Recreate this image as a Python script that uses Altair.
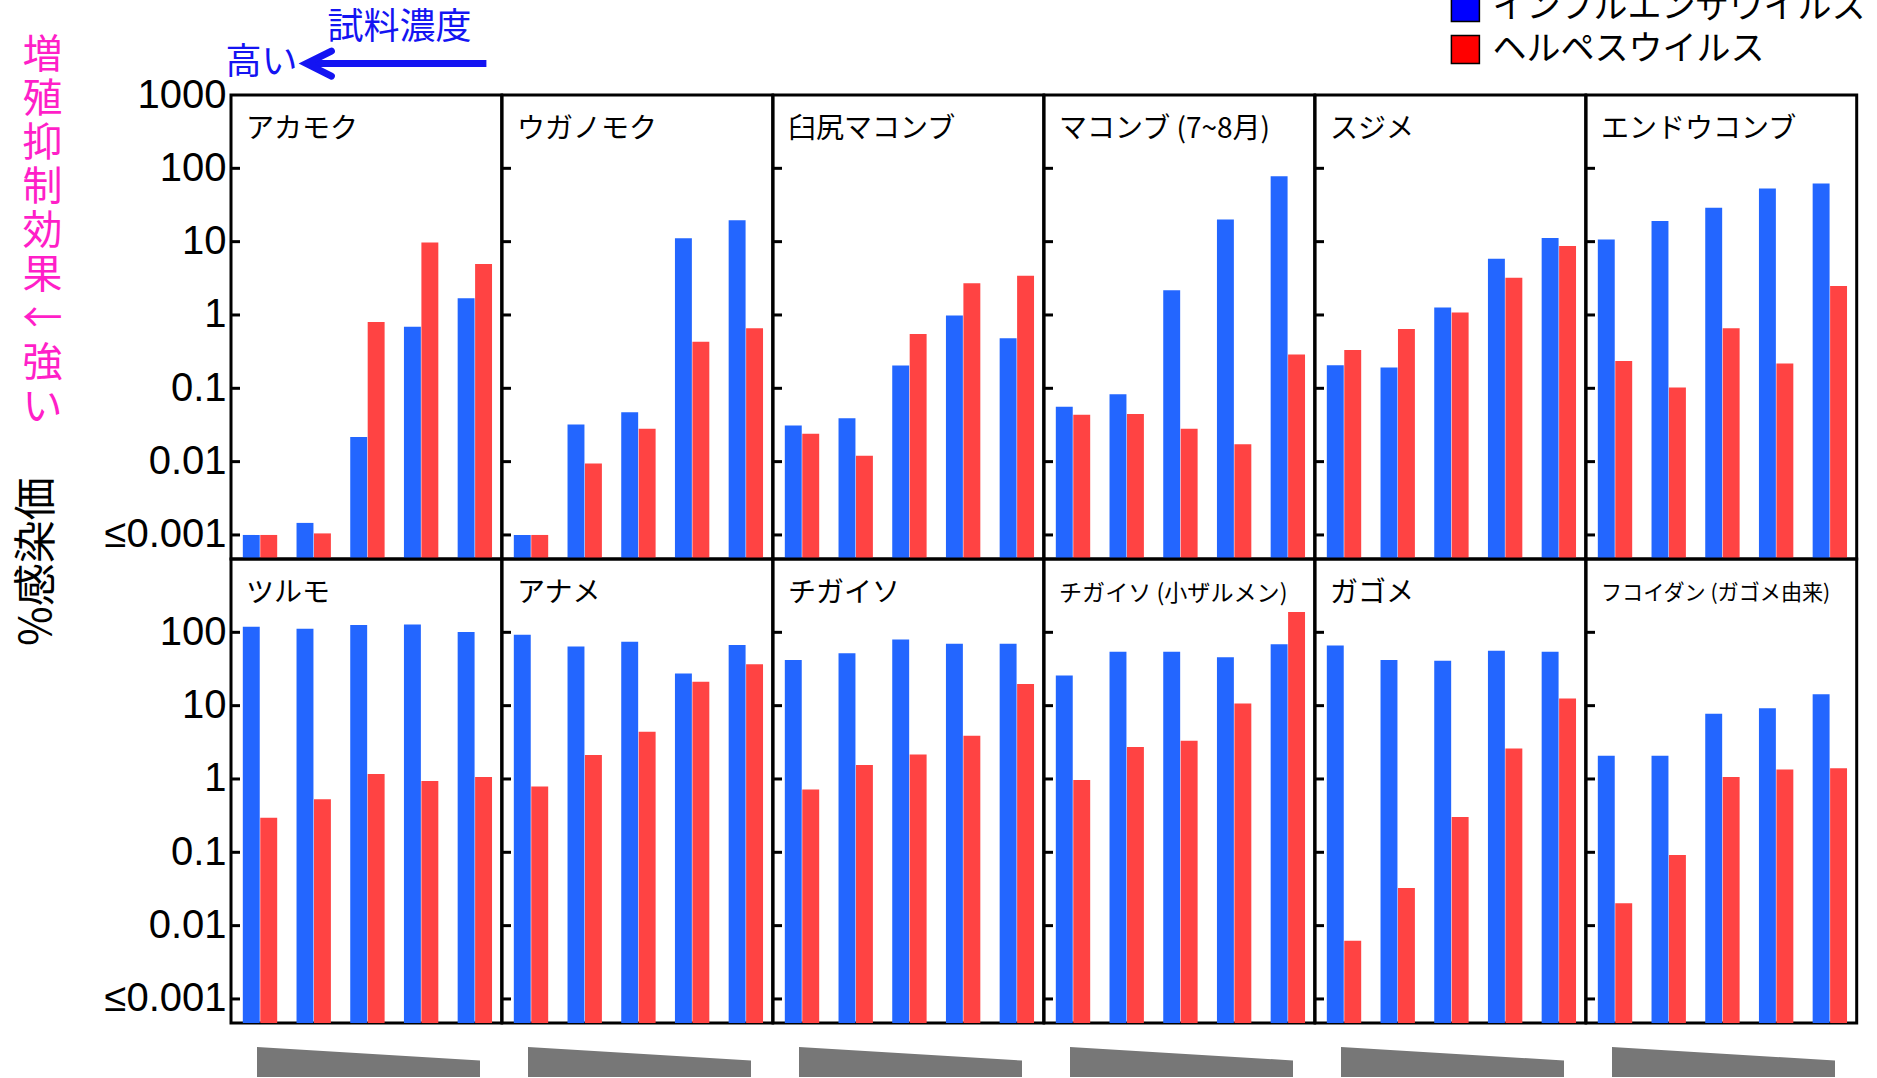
import altair as alt
import pandas as pd

# ---------------- data ----------------
series = ["インフルエンザウイルス", "ヘルペスウイルス"]
bar_colors = ["#2366FF", "#FF4343"]
legend_colors = ["#0000FF", "#FF0000"]
groups = [1, 2, 3, 4, 5]

top_panels = ["アカモク", "ウガノモク", "臼尻マコンブ", "マコンブ (7~8月)", "スジメ", "エンドウコンブ"]
bottom_panels = ["ツルモ", "アナメ", "チガイソ", "チガイソ (小ザルメン)", "ガゴメ", "フコイダン (ガゴメ由来)"]

flu_top = [
    [0.001, 0.00146, 0.0216, 0.69, 1.69],
    [0.001, 0.032, 0.047, 11.1, 19.6],
    [0.031, 0.039, 0.204, 0.98, 0.48],
    [0.056, 0.083, 2.17, 20.0, 78.0],
    [0.206, 0.192, 1.26, 5.85, 11.2],
    [10.7, 19.2, 28.9, 53.0, 62.0],
]
herpes_top = [
    [0.001, 0.00105, 0.80, 9.7, 4.94],
    [0.001, 0.0094, 0.028, 0.43, 0.66],
    [0.024, 0.012, 0.55, 2.7, 3.43],
    [0.0435, 0.0445, 0.028, 0.0172, 0.29],
    [0.334, 0.645, 1.08, 3.22, 8.7],
    [0.236, 0.1025, 0.66, 0.218, 2.48],
]
flu_bottom = [
    [119, 112, 126, 128, 101],
    [93, 64, 74.5, 27.4, 67],
    [42, 52, 80, 70, 70],
    [25.7, 54.5, 54.5, 45.6, 69],
    [66, 42, 41, 56, 54.5],
    [2.08, 2.08, 7.73, 9.24, 14.3],
]
herpes_bottom = [
    [0.295, 0.53, 1.17, 0.94, 1.06],
    [0.79, 2.12, 4.4, 21.1, 36.6],
    [0.72, 1.55, 2.16, 3.9, 19.8],
    [0.97, 2.72, 3.32, 10.7, 189],
    [0.0062, 0.0326, 0.304, 2.61, 12.5],
    [0.0202, 0.0916, 1.06, 1.35, 1.4],
]

axis_values_top = [1000, 100, 10, 1, 0.1, 0.01, 0.001]
axis_labels_top = ["1000", "100", "10", "1", "0.1", "0.01", "≤0.001"]
axis_values_bottom = axis_values_top[1:]
axis_labels_bottom = axis_labels_top[1:]
inner_ticks = [100, 10, 1, 0.1, 0.01, 0.001]
y_domain = [0.00047, 1000]

wedge_x = [0, 1]
wedge_top = [1.0, 0.55]

side_label_chars = ["増", "殖", "抑", "制", "効", "果", "←", "強", "い"]
y_title = "%感染価"
conc_title = "試料濃度"
conc_high = "高い"

# ---------------- layout constants ----------------
W = 270.7
H = 464
OX, OY = 228.6, 93.4  # page position of first panel origin
BLUE_TXT = "#1414F2"
MAGENTA = "#FF1FC8"
JP = "Noto Sans CJK JP"


def label_expr(values, labels):
    expr = "''"
    for v, l in reversed(list(zip(values, labels))):
        expr = f"datum.value == {v} ? '{l}' : ({expr})"
    return expr


def title_size(name):
    em = sum(0.55 if ord(c) < 128 else 1.0 for c in name)
    return min(28, 246 / em)


def panel(name, flu, herpes, first_col, top_row):
    df = pd.DataFrame({
        "group": groups * 2,
        "virus": [series[0]] * 5 + [series[1]] * 5,
        "value": list(flu) + list(herpes),
    })
    if first_col:
        vals = axis_values_top if top_row else axis_values_bottom
        labs = axis_labels_top if top_row else axis_labels_bottom
        axis = alt.Axis(values=vals, labelExpr=label_expr(vals, labs), ticks=False, tickSize=0,
                        domain=False, grid=False, labelFontSize=40, labelFont="Liberation Sans",
                        labelColor="black", labelPadding=5, title=None)
    else:
        axis = None
    yscale = alt.Scale(type="log", domain=y_domain)
    bars = alt.Chart(df).mark_bar().encode(
        x=alt.X("group:O", axis=None,
                scale=alt.Scale(paddingInner=0.36, paddingOuter=0.2, align=0.55)),
        xOffset=alt.XOffset("virus:N", scale=alt.Scale(domain=series, paddingInner=0.03)),
        y=alt.Y("value:Q", scale=yscale, axis=axis, stack=False),
        color=alt.Color("virus:N", scale=alt.Scale(domain=series, range=bar_colors), legend=None),
    )
    ticks = alt.Chart(pd.DataFrame({"value": inner_ticks})).mark_rule(
        color="black", strokeWidth=3).encode(
        y=alt.Y("value:Q", scale=yscale, axis=axis),
        x=alt.value(0), x2=alt.value(9),
    )
    ttl = alt.Chart(pd.DataFrame({"name": [name]})).mark_text(
        align="left", baseline="middle", font=JP, fontSize=title_size(name), color="black"
    ).encode(x=alt.value(15), y=alt.value(35), text="name:N")
    layers = [bars, ticks, ttl]

    if first_col and top_row:
        one = pd.DataFrame({"k": [0]})
        # invisible anchor fixing page origin
        anchor = alt.Chart(one).mark_rule(opacity=0, strokeWidth=0).encode(
            x=alt.value(-OX), x2=alt.value(-OX), y=alt.value(-OY - 20), y2=alt.value(-OY - 19))
        side = alt.Chart(one).mark_text(
            align="center", baseline="top", font=JP, fontSize=40, lineHeight=44, color=MAGENTA
        ).encode(x=alt.value(40 - OX), y=alt.value(34 - OY), text=alt.value(side_label_chars))
        ytitle = alt.Chart(one).mark_text(
            align="center", baseline="middle", font=JP, fontSize=43, angle=270, color="black"
        ).encode(x=alt.value(36 - OX), y=alt.value(560 - OY), text=alt.value(y_title))
        t_conc = alt.Chart(one).mark_text(
            align="center", baseline="middle", font=JP, fontSize=36, color=BLUE_TXT
        ).encode(x=alt.value(397 - OX), y=alt.value(26 - OY), text=alt.value(conc_title))
        t_high = alt.Chart(one).mark_text(
            align="center", baseline="middle", font=JP, fontSize=36, color=BLUE_TXT
        ).encode(x=alt.value(259 - OX), y=alt.value(61 - OY), text=alt.value(conc_high))
        shaft = alt.Chart(one).mark_rule(color=BLUE_TXT, strokeWidth=7).encode(
            x=alt.value(308 - OX), x2=alt.value(484 - OX), y=alt.value(62 - OY))
        head = alt.Chart(one).mark_point(
            shape="M 1 -0.5 L 0 0 L 1 0.5", filled=False, stroke=BLUE_TXT, strokeWidth=7,
            size=2500, strokeCap="round", strokeJoin="miter", opacity=1
        ).encode(x=alt.value(304 - OX), y=alt.value(62 - OY))
        layers += [anchor, side, ytitle, t_conc, t_high, shaft, head]
        # legend (drawn as marks)
        for i, (s, c) in enumerate(zip(series, legend_colors)):
            cy = 6 + i * 42 - OY
            sq = alt.Chart(one).mark_square(
                size=784, color=c, opacity=1, stroke="black", strokeWidth=1.5
            ).encode(x=alt.value(1463 - OX), y=alt.value(cy))
            tx = alt.Chart(one).mark_text(
                align="left", baseline="middle", font=JP, fontSize=34, color="black"
            ).encode(x=alt.value(1490 - OX), y=alt.value(cy), text=alt.value(s))
            layers += [sq, tx]

    return alt.layer(*layers).properties(
        width=W, height=H,
        view=alt.ViewBackground(stroke="black", strokeWidth=3),
    )


def wedge():
    df = pd.DataFrame({"wx": wedge_x, "wy": wedge_top})
    return alt.Chart(df).mark_area(color="#777777").encode(
        x=alt.X("wx:Q", scale=alt.Scale(domain=[0, 1], range=[26, 249]), axis=None),
        y=alt.Y("wy:Q", scale=alt.Scale(domain=[0, 1], range=[54, 24]), axis=None),
        y2=alt.datum(0),
    ).properties(
        width=W, height=54,
        view=alt.ViewBackground(stroke="white", strokeOpacity=0, strokeWidth=0),
    )


charts = []
for j in range(6):
    charts.append(panel(top_panels[j], flu_top[j], herpes_top[j], j == 0, True))
for j in range(6):
    charts.append(panel(bottom_panels[j], flu_bottom[j], herpes_bottom[j], j == 0, False))
for j in range(6):
    charts.append(wedge())

chart = alt.concat(*charts, columns=6, spacing=0, bounds="flush").properties(
    padding={"left": 0, "top": -20, "right": 0, "bottom": 0}
).configure_view(stroke="transparent", strokeWidth=0).configure(background="white")

chart.save("out.html", embed_options={"renderer": "svg", "actions": False})
